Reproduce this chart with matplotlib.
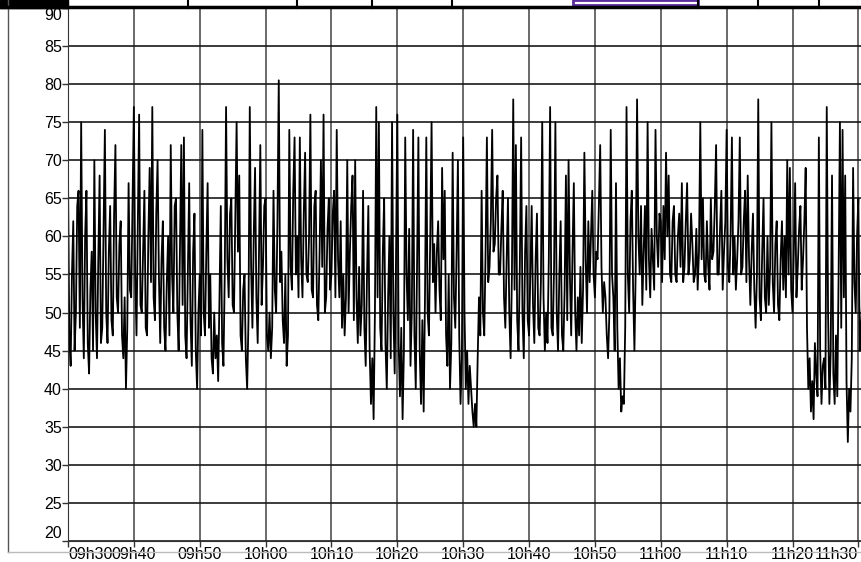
import numpy as np
import matplotlib.pyplot as plt
from matplotlib.lines import Line2D
from matplotlib.patches import Rectangle

plt.rcParams['font.family'] = ['Liberation Sans', 'DejaVu Sans']

# sound level (dB), one reading every 0.2 min starting 09h30
lvl_0930 = [68, 47, 43, 55, 62, 45, 50, 64, 66, 48, 75, 52, 44, 60, 66, 46, 42, 53, 58, 45,
            70, 50, 44, 57, 68, 46, 48, 61, 74, 50, 46, 58, 64, 49, 47, 63, 72, 52, 50, 59,
            62, 47, 44, 52, 40, 48, 67, 53, 52, 65, 77, 55, 47, 62, 76, 51, 50, 58, 66, 48,
            47, 60, 69, 54, 77, 52, 49, 63, 70, 55, 46, 57, 62, 48, 45, 54, 60, 47, 72, 55,
            50, 64, 65, 50, 45, 59, 72, 51, 73, 47, 44, 56, 67, 49, 43, 58, 63, 45, 40, 50,
            55, 47]
lvl_0950 = [74, 50, 47, 58, 67, 48, 55, 44, 42, 50, 44, 47, 41, 52, 64, 46, 43, 55, 77, 57,
            52, 63, 65, 51, 50, 62, 75, 58, 68, 47, 45, 53, 55, 44, 40, 49, 77, 56, 48, 60,
            69, 52, 46, 58, 72, 51, 56, 64, 65, 47, 45, 50, 44, 48, 66, 53, 50, 62, 80.5, 54,
            58, 49, 46, 55, 43, 47, 74, 56, 53, 66, 73, 55, 60, 52, 73, 57, 52, 63, 71, 55,
            54, 60, 76, 53, 52, 64, 66, 51, 49, 58, 70, 56, 76, 50, 52, 61, 65, 53, 55, 63,
            66, 52]
lvl_1010 = [74, 57, 52, 62, 48, 55, 47, 52, 70, 50, 58, 64, 68, 49, 70, 52, 46, 56, 47, 51,
            66, 48, 43, 55, 64, 45, 38, 44, 36, 50, 77, 52, 75, 48, 45, 58, 65, 46, 40, 52,
            60, 44, 75, 50, 42, 57, 76, 46, 39, 48, 36, 45, 73, 55, 49, 61, 43, 50, 74, 47,
            40, 56, 73, 45, 38, 49, 37, 52, 73, 50, 47, 60, 75, 54, 59, 50, 58, 62, 53, 49,
            69, 57, 66, 47, 43, 55, 40, 46, 71, 52, 48, 58, 70, 47, 38, 44, 73, 50, 40, 45,
            38, 43]
lvl_1031 = [40, 37, 35, 38, 35, 44, 52, 47, 66, 50, 47, 58, 73, 54, 56, 62, 74, 58, 59, 65,
            68, 55, 55, 61, 66, 52, 48, 57, 65, 50, 44, 55, 78, 53, 72, 49, 45, 56, 73, 50,
            44, 58, 64, 49, 47, 55, 64, 51, 46, 57, 63, 48, 47, 54, 75, 52, 45, 50, 46, 57,
            77, 48, 47, 56, 75, 50, 45, 55, 62, 47, 45, 53, 68, 49, 70, 55, 47, 58, 67, 50,
            45, 52, 47, 56, 46, 53, 71, 57, 50, 62, 54, 60, 66, 55, 52, 58, 57, 64, 72, 56,
            50, 54]
lvl_1051 = [52, 47, 44, 50, 74, 55, 52, 45, 67, 48, 40, 44, 37, 39, 38, 48, 77, 55, 50, 62,
            66, 53, 45, 56, 78, 60, 55, 64, 51, 58, 64, 53, 75, 57, 52, 61, 57, 53, 74, 60,
            56, 63, 62, 54, 64, 57, 71, 60, 68, 55, 54, 62, 64, 55, 54, 60, 63, 56, 67, 54,
            56, 62, 67, 55, 57, 63, 59, 54, 55, 61, 53, 58, 75, 57, 65, 55, 54, 62, 56, 53,
            65, 57, 58, 64, 72, 55, 55, 61, 66, 53, 58, 62, 74, 56, 54, 60, 73, 55, 60, 53,
            57, 62]
lvl_1112 = [73, 55, 56, 62, 66, 54, 68, 57, 51, 58, 63, 53, 48, 55, 78, 52, 49, 58, 65, 52,
            50, 60, 51, 56, 75, 54, 50, 59, 62, 51, 49, 57, 62, 53, 60, 52, 70, 55, 69, 53,
            50, 58, 67, 52, 56, 61, 64, 53, 57, 62, 69, 48, 40, 44, 37, 41, 36, 46, 42, 39,
            73, 45, 38, 43, 44, 40, 77, 50, 38, 45, 68, 42, 38, 47, 39, 55, 75, 48, 74, 52,
            68, 41, 33, 40, 37, 44, 69, 54, 50, 60, 65, 45, 48, 52]

x_ticks = [0, 10, 20, 30, 40, 50, 60, 70, 80, 90, 100, 110, 120]
x_labels = ["09h30", "09h40", "09h50", "10h00", "10h10", "10h20", "10h30",
            "10h40", "10h50", "11h00", "11h10", "11h20", "11h30"]
y_ticks = [20, 25, 30, 35, 40, 45, 50, 55, 60, 65, 70, 75, 80, 85, 90]

level = np.array(lvl_0930 + lvl_0950 + lvl_1010 + lvl_1031 + lvl_1051 + lvl_1112)
t = np.arange(len(level)) * 0.2

W, H = 861, 562
fig = plt.figure(figsize=(W / 100, H / 100), dpi=100)
ax = fig.add_axes([68 / W, (H - 541) / H, (861 - 68) / W, (541 - 8) / H])

ax.plot(t, level, color="black", lw=1.3)

ax.set_xlim(0, 120.4)
ax.set_ylim(20, 90)
ax.set_xticks(x_ticks)
ax.set_xticklabels(x_labels)
ax.set_yticks(y_ticks)
ax.set_axisbelow(True)
ax.yaxis.grid(True, color="#1a1a1a", lw=1.2)
ax.xaxis.grid(True, color="#505050", lw=1.2)
ax.tick_params(axis="both", labelsize=11.5, length=4, width=1, color="#333333", pad=0.5)
for s in ["top", "right"]:
    ax.spines[s].set_visible(False)
ax.spines["left"].set_color("#333333")
ax.spines["bottom"].set_color("#333333")

xl = ax.get_xticklabels()
xl[0].set_horizontalalignment("left")
xl[-1].set_horizontalalignment("right")
yl = ax.get_yticklabels()
yl[0].set_verticalalignment("bottom")
yl[-1].set_verticalalignment("top")


# screenshot frame around the chart (pixel coords -> figure fraction)
def fx(x):
    return x / W


def fy(y):
    return 1 - y / H


fig.add_artist(Line2D([fx(8), fx(8)], [fy(0), fy(552)], color="#555555", lw=1))
fig.add_artist(Line2D([fx(8), fx(861)], [fy(552), fy(552)], color="#bbbbbb", lw=1))
fig.add_artist(Rectangle((fx(0), fy(8)), fx(68), 8 / H, color="black"))
fig.add_artist(Line2D([fx(0), fx(861)], [fy(7), fy(7)], color="black", lw=2.5))
for sx in [68, 188, 297, 372, 452, 698, 758, 819]:
    fig.add_artist(Line2D([fx(sx), fx(sx)], [fy(0), fy(8)], color="black", lw=1.5))
fig.add_artist(Rectangle((fx(573), fy(5)), (698 - 573) / W, 5 / H,
                         fill=False, edgecolor="#5a2d9c", lw=2))

fig.savefig("out.png", dpi=100)
